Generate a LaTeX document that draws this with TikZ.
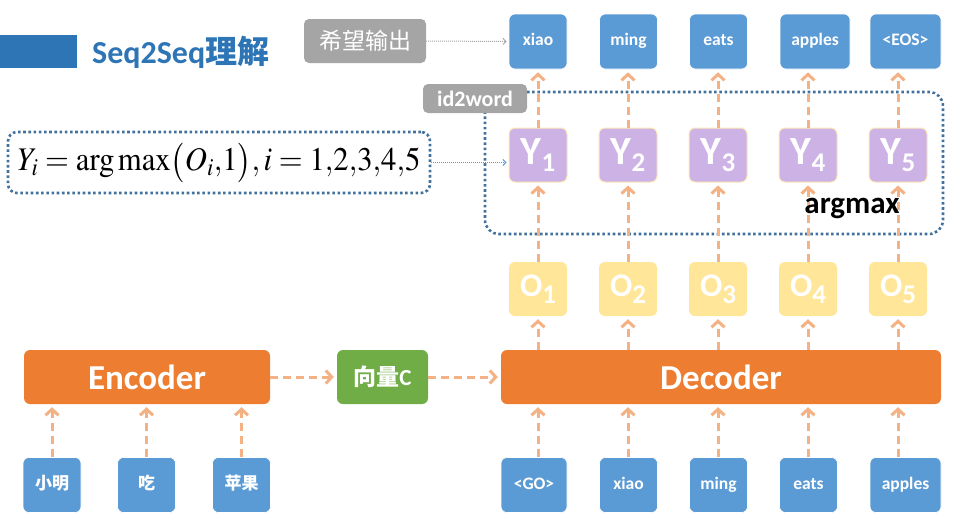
\documentclass[tikz,border=0pt]{standalone}
\usepackage{mathptmx}
\usepackage[no-math]{fontspec}
\setmainfont{Carlito}
\newfontfamily\cjk{Noto Sans CJK SC}
\usepackage{graphicx}
\usepackage{tikz}
\usetikzlibrary{arrows.meta,positioning}

\definecolor{titleblue}{HTML}{2E75B6}
\definecolor{wordblue}{HTML}{5B9BD5}
\definecolor{encorange}{HTML}{ED7D31}
\definecolor{vecgreen}{HTML}{70AD47}
\definecolor{boxgrey}{HTML}{A5A5A5}
\definecolor{oyellow}{HTML}{FFE699}
\definecolor{ylilac}{HTML}{CDB2E6}
\definecolor{yborder}{HTML}{FFE9B8}
\definecolor{arrowc}{HTML}{F4B183}
\definecolor{framec}{HTML}{41719C}
\definecolor{hintblue}{HTML}{5B9BD5}

\newcommand{\lowsub}[2]{#1\raisebox{-7pt}{\fontsize{27}{27}\selectfont #2}}

\tikzset{
  box/.style={rectangle, rounded corners=6pt, inner sep=0pt,
              minimum height=55pt, minimum width=58pt, text=white},
  word/.style={box, fill=wordblue, draw=white, line width=0.6pt,
               text height=12pt, text depth=4pt,
               font=\bfseries\fontsize{17.5}{20}\selectfont},
  cnword/.style={word, font=\cjk\bfseries\fontsize{17}{20}\selectfont},
  obox/.style={box, minimum height=54pt, fill=oyellow,
               font=\bfseries\fontsize{33}{36}\selectfont},
  ybox/.style={box, minimum height=54pt, fill=ylilac, draw=yborder, line width=1pt,
               font=\bfseries\fontsize{40}{44}\selectfont},
  block/.style={box, minimum height=54pt, fill=encorange,
                font=\bfseries\fontsize{35}{40}\selectfont},
  greybox/.style={rectangle, rounded corners=5pt, fill=boxgrey, text=white, inner sep=0pt},
  flow/.style={-{Straight Barb[length=6pt,width=13pt]}, draw=arrowc, line width=3pt,
               dash pattern=on 8pt off 5pt, shorten >=3pt},
  dotframe/.style={draw=framec, line width=2.6pt, dash pattern=on 2.6pt off 2.6pt},
  hint/.style={densely dotted, line width=1pt, shorten >=2pt,
               -{Straight Barb[length=3pt,width=6pt]}}
}

\begin{document}
\begin{tikzpicture}[x=1pt, y=-1pt]
  \useasboundingbox (0,0) rectangle (957,531);

  % title
  \fill[titleblue] (0,35) rectangle (77,68);
  \node[anchor=base west, inner sep=0pt, text=titleblue,
        font=\bfseries\fontsize{32}{36}\selectfont] (title) at (92,63) {Seq2Seq{\cjk 理解}};

  % encoder side
  \node[block, minimum width=246pt] (enc) at (147,377) {Encoder};
  \node[box, minimum height=54pt, minimum width=91pt, fill=vecgreen,
        font=\bfseries\fontsize{23}{26}\selectfont] (vec) at (382.5,377) {{\cjk 向量}C};
  \node[block, minimum width=440pt] (dec) at (721,377) {Decoder};

  \node[cnword] (e1) at (52,485) {小明};
  \node[cnword] (e2) at (146.5,485) {吃};
  \node[cnword] (e3) at (241.5,485) {苹果};

  % decoder inputs
  \node[word, minimum width=66pt] (d1) at (534,485) {<GO>};
  \node[word] (d2) at (628.5,485) {xiao};
  \node[word] (d3) at (718.5,485) {ming};
  \node[word] (d4) at (808.5,485) {eats};
  \node[word, minimum width=71pt] (d5) at (905.5,485) {apples};

  % decoder outputs
  \node[obox] (O1) at (538,289) {\lowsub{O}{1}};
  \node[obox] (O2) at (628,289) {\lowsub{O}{2}};
  \node[obox] (O3) at (718,289) {\lowsub{O}{3}};
  \node[obox] (O4) at (808,289) {\lowsub{O}{4}};
  \node[obox] (O5) at (898,289) {\lowsub{O}{5}};

  \draw[dotframe, rounded corners=14pt] (485,92) rectangle (943,234);

  \node[ybox] (Y1) at (538,155) {\lowsub{Y}{1}};
  \node[ybox] (Y2) at (628,155) {\lowsub{Y}{2}};
  \node[ybox] (Y3) at (718,155) {\lowsub{Y}{3}};
  \node[ybox] (Y4) at (808,155) {\lowsub{Y}{4}};
  \node[ybox] (Y5) at (898,155) {\lowsub{Y}{5}};

  % expected words
  \node[word] (t1) at (538,41.5) {xiao};
  \node[word] (t2) at (628.5,41.5) {ming};
  \node[word] (t3) at (718.5,41.5) {eats};
  \node[word, minimum width=70pt] (t4) at (815,41.5) {apples};
  \node[word, minimum width=71pt] (t5) at (905.5,41.5) {<EOS>};

  \node[greybox, minimum width=122pt, minimum height=44pt,
        font=\cjk\fontsize{23}{26}\selectfont] (hope) at (365,41) {希望输出};
  \node[greybox, minimum width=104pt, minimum height=29pt,
        font=\bfseries\fontsize{22}{24}\selectfont] (id2w) at (475,98.5) {id2word};

  \node[dotframe, rounded corners=9pt, minimum width=422pt, minimum height=61pt,
        inner sep=0pt, font=\fontsize{33}{36}\selectfont] (formula) at (219,162.5)
        {\scalebox{0.93}[1]{$Y_i=\arg\max\bigl(O_i{,}1\bigr){,}\,i=1{,}2{,}3{,}4{,}5$}};

  % connectors
  \draw[flow] (e1.north) -- (e1.north |- enc.south);
  \draw[flow] (e2.north) -- (e2.north |- enc.south);
  \draw[flow] (e3.north) -- (e3.north |- enc.south);
  \draw[flow] (enc.east) -- (vec.west);
  \draw[flow] (vec.east) -- (dec.west);

  \draw[flow] (O1 |- d1.north) -- (O1 |- dec.south);
  \draw[flow] (O2 |- d2.north) -- (O2 |- dec.south);
  \draw[flow] (O3 |- d3.north) -- (O3 |- dec.south);
  \draw[flow] (O4 |- d4.north) -- (O4 |- dec.south);
  \draw[flow] (O5 |- d5.north) -- (O5 |- dec.south);

  \draw[flow] (O1 |- dec.north) -- (O1.south);
  \draw[flow] (O2 |- dec.north) -- (O2.south);
  \draw[flow] (O3 |- dec.north) -- (O3.south);
  \draw[flow] (O4 |- dec.north) -- (O4.south);
  \draw[flow] (O5 |- dec.north) -- (O5.south);

  \draw[flow] (O1.north) -- (Y1.south);
  \draw[flow] (O2.north) -- (Y2.south);
  \draw[flow] (O3.north) -- (Y3.south);
  \draw[flow] (O4.north) -- (Y4.south);
  \draw[flow] (O5.north) -- (Y5.south);

  \draw[flow] (Y1.north) -- (Y1 |- t1.south);
  \draw[flow] (Y2.north) -- (Y2 |- t2.south);
  \draw[flow] (Y3.north) -- (Y3 |- t3.south);
  \draw[flow] (Y4.north) -- (Y4 |- t4.south);
  \draw[flow] (Y5.north) -- (Y5 |- t5.south);

  \draw[hint, boxgrey] (hope.east) -- (t1.west);
  \draw[hint, hintblue] (formula.east) -- (formula.east -| Y1.west);

  \node[font=\bfseries\fontsize{31}{34}\selectfont, inner sep=0pt] (argmax) at (852,208) {argmax};
\end{tikzpicture}
\end{document}
